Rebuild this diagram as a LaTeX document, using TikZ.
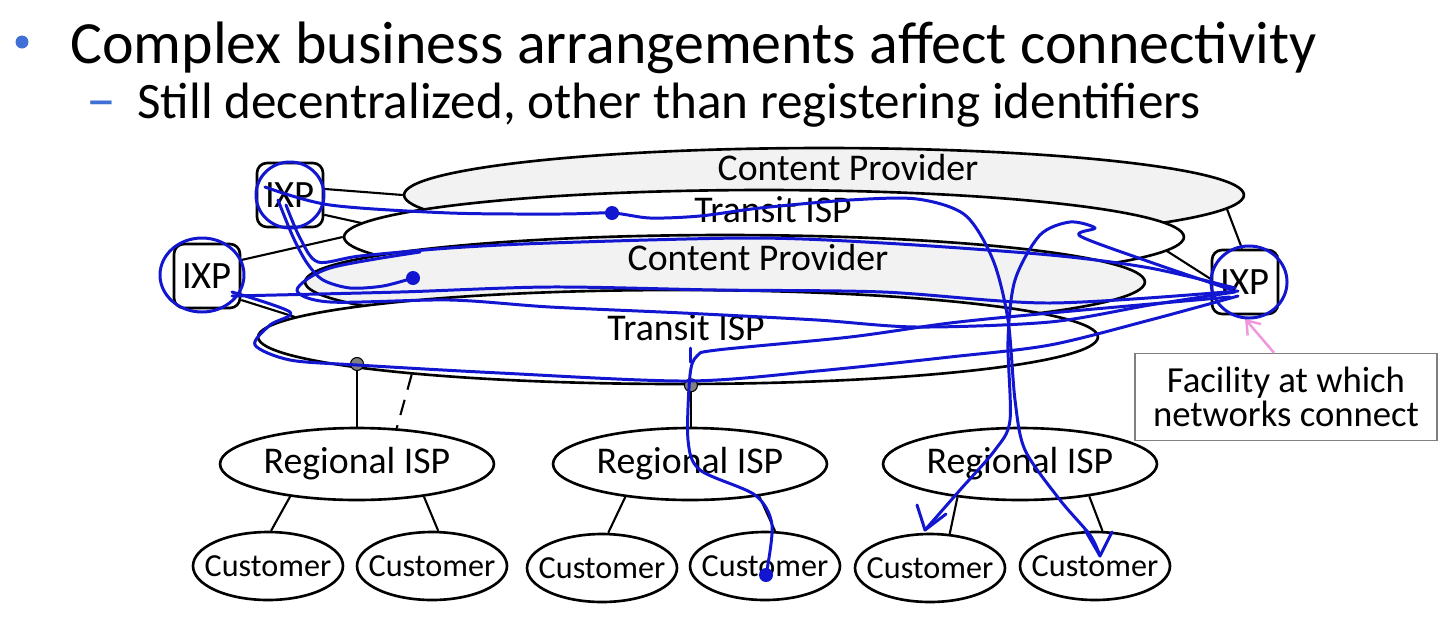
\documentclass[tikz,border=0pt]{standalone}
\usepackage{fontspec}
\setmainfont{Carlito}
\usetikzlibrary{calc,positioning,shapes.geometric,arrows.meta}

\definecolor{penblue}{RGB}{18,22,208}
\definecolor{slideblue}{RGB}{64,112,214}
\definecolor{arrowpink}{RGB}{240,150,222}
\definecolor{provgray}{RGB}{242,242,242}

\begin{document}
\begin{tikzpicture}[x=0.02cm, y=-0.02cm,
    net/.style={ellipse, draw, line width=1.5pt, minimum width=16.8cm, minimum height=1.88cm, inner sep=0pt},
    provider/.style={net, fill=provgray},
    transit/.style={net, fill=white},
    netlabel/.style={font=\fontsize{21.5}{24}\selectfont, inner sep=0pt},
    ixp/.style={draw, line width=1.5pt, rounded corners=0.2cm, fill=white, minimum width=1.32cm, minimum height=1.28cm, inner sep=0pt, font=\fontsize{22}{24}\selectfont},
    regional/.style={ellipse, draw, line width=1.5pt, minimum width=5.48cm, minimum height=1.44cm, inner xsep=-0.8cm, inner ysep=0pt, font=\fontsize{21.5}{24}\selectfont},
    customer/.style={ellipse, draw, line width=1.5pt, minimum width=3cm, minimum height=1.36cm, inner xsep=-0.6cm, inner ysep=0pt, font=\fontsize{18.3}{20}\selectfont},
    hub/.style={circle, draw, fill=gray, inner sep=0pt, minimum size=0.26cm, line width=0.6pt},
    link/.style={line width=1.2pt},
    pen/.style={penblue, line width=1.7pt, line cap=round, line join=round},
    ink/.style={circle, fill=penblue, inner sep=0pt, minimum size=0.28cm}
]
    \useasboundingbox (0,0) rectangle (1452,626);

    % Slide heading
    \node[circle, fill=slideblue, inner sep=0pt, minimum size=0.26cm] (bullet) at (22,42) {};
    \node[anchor=base west, inner sep=0pt, font=\fontsize{34.1}{40}\selectfont] (title) at (70,63) {Complex business arrangements affect connectivity};
    \node[anchor=base west, inner sep=0pt, text=slideblue, font=\fontsize{34}{34}\selectfont] (dash) at (86,119) {–};
    \node[anchor=base west, inner sep=0pt, font=\fontsize{29.1}{34}\selectfont] (subtitle) at (137,118) {Still decentralized, other than registering identifiers};

    % Stacked provider and transit networks
    \node[provider] (cp1) at (824,195) {};
    \node[transit] (tisp1) at (764,237) {};
    \node[provider] (cp2) at (725,282) {};
    \node[transit] (tisp2) at (678,337) {};
    \node[netlabel] (cp1t) at ([shift={(24,-27)}]cp1.center) {Content Provider};
    \node[netlabel] (tisp1t) at ([shift={(9,-27)}]tisp1.center) {Transit ISP};
    \node[netlabel] (cp2t) at ([shift={(33,-24)}]cp2.center) {Content Provider};
    \node[netlabel] (tisp2t) at ([shift={(8,-9)}]tisp2.center) {Transit ISP};

    % Exchange points and their links
    \node[ixp] (ixpA) at (290,195) {IXP};
    \node[ixp] (ixpB) at (207,276) {IXP};
    \node[ixp] (ixpC) at (1245,282) {IXP};
    \draw[link] (ixpA.10) -- (cp1.west);
    \draw[link] (ixpA.-30) -- (tisp1.178);
    \draw[link] (ixpB.25) -- (tisp1.west);
    \draw[link] (ixpB.-35) -- (tisp2.177);
    \draw[link] (ixpC.95) -- (cp1.-2);
    \draw[link] (ixpC.175) -- (tisp1.-2);

    % Regional ISPs and customers
    \node[regional] (reg1) at (357,464) {Regional ISP};
    \node[regional] (reg2) at (690,464) {Regional ISP};
    \node[regional] (reg3) at (1020,464) {Regional ISP};
    \node[customer] (cust1) at (268,566) {Customer};
    \node[customer] (cust2) at (432,566) {Customer};
    \node[customer] (cust3) at (602,568) {Customer};
    \node[customer] (cust4) at (765,566) {Customer};
    \node[customer] (cust5) at (930,568) {Customer};
    \node[customer] (cust6) at (1095,566) {Customer};

    \node[hub] (hubA) at (357,364) {};
    \node[hub] (hubB) at (tisp2.285) {};
    \draw[link] (hubA) -- (hubA |- reg1.north);
    \draw[link] (hubB) -- (hubB |- reg2.north);
    \draw[link, dashed, dash pattern=on 9pt off 6pt] (tisp2.188) -- (reg1.42);

    \draw[link] (reg1.206) -- (cust1.85);
    \draw[link] (reg1.334) -- (cust2.80);
    \draw[link] (reg2.207) -- (cust3.80);
    \draw[link] (reg2.335) -- (cust4.74);
    \draw[link] (reg3.208) -- (cust5.60);
    \draw[link] (reg3.335) -- (cust6.78);

    % Callout
    \node[draw=gray, line width=0.8pt, align=center, inner sep=0pt, minimum width=6.04cm, minimum height=1.74cm, font=\fontsize{20.9}{19}\selectfont] (facility) at (1286,397) {Facility at which\\networks connect};
    \draw[arrowpink, line width=1.4pt, -{Straight Barb[length=7pt,width=10pt]}] ([xshift=-0.24cm]facility.north) -- ([yshift=-2pt]ixpC.south);

    % Hand-drawn pen strokes
    \draw[pen] (ixpA.center) ellipse (34 and 33);
    \draw[pen] (202,275) ellipse (42 and 37);
    \draw[pen] (1249,282) ellipse (38 and 36);

    \node[ink] (inkA) at (612,213) {};
    \node[ink] (inkB) at (413,278) {};
    \node[ink] (inkC) at (766,575) {};

    \draw[pen] plot[smooth] coordinates {(265,187) (330,205) (450,213) (560,214) (612,213) (650,218) (700,216) (760,208) (850,200) (917,199) (965,215) (993,260) (1008,320) (1015,400) (1025,450) (1060,500) (1090,535) (1100,556)};
    \draw[pen] (1085,530) -- (1100,556) -- (1112,532);

    \draw[pen] plot[smooth] coordinates {(278,200) (293,237) (307,263) (323,280) (350,288) (383,286) (413,278)};

    \draw[pen] plot[smooth] coordinates {(286,205) (300,238) (318,262) (360,256) (450,248) (550,243) (750,238) (883,243) (1050,255) (1150,268) (1235,288)};

    \draw[pen] plot[smooth] coordinates {(1235,292) (1150,305) (1050,322) (917,327) (817,320) (683,313) (550,307) (450,300) (330,302) (297,290) (330,268) (420,252)};

    \draw[pen] plot[smooth] coordinates {(232,296) (400,292) (550,287) (717,290) (883,292) (1050,303) (1238,291)};

    \draw[pen] plot[smooth] coordinates {(232,292) (290,312) (270,325) (255,345) (290,360) (357,365) (500,373) (687,381) (817,371) (950,357) (1050,345) (1150,320) (1238,296)};

    \draw[pen] plot[smooth] coordinates {(1230,297) (1050,313) (950,323) (850,337) (717,350) (697,356) (690,375) (688,440) (700,470) (755,495) (772,525) (766,575)};
    \draw[pen] (690,348) -- (690,362);

    \draw[pen] plot[smooth] coordinates {(1232,290) (1150,262) (1080,236) (1095,228) (1070,222) (1040,235) (1015,280) (1008,340) (1010,420) (995,450) (960,490) (925,530)};
    \draw[pen] (917,505) -- (925,530) -- (946,514);
\end{tikzpicture}
\end{document}
